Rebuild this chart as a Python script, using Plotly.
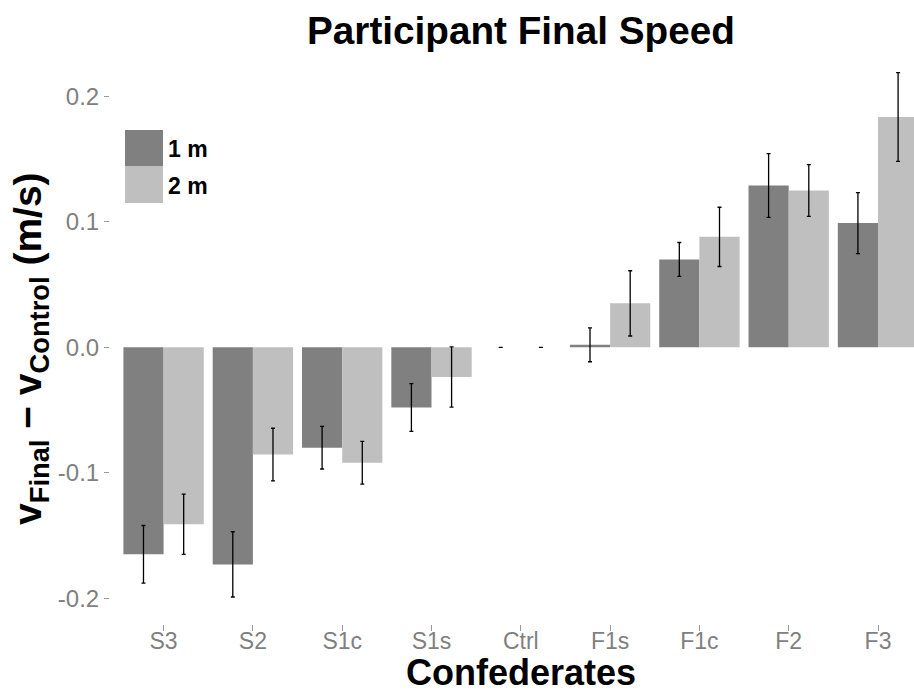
import plotly.graph_objects as go

# Confederate conditions along the x axis
categories = ["S3", "S2", "S1c", "S1s", "Ctrl", "F1s", "F1c", "F2", "F3"]

# Mean change in final speed (m/s) and standard errors, by following distance
mean_1m = [-0.165, -0.173, -0.080, -0.048, 0.0, 0.002, 0.070, 0.129, 0.099]
se_1m = [0.023, 0.026, 0.017, 0.019, 0.0, 0.0135, 0.0135, 0.0254, 0.0243]
mean_2m = [-0.141, -0.0855, -0.092, -0.0237, 0.0, 0.035, 0.088, 0.125, 0.1835]
se_2m = [0.024, 0.021, 0.017, 0.024, 0.0, 0.026, 0.0236, 0.0206, 0.0354]

series_names = ["1 m", "2 m"]
series_colors = ["#808080", "#BFBFBF"]

y_tick_vals = [-0.2, -0.1, 0.0, 0.1, 0.2]
y_tick_text = ["-0.2", "-0.1", "0.0", "0.1", "0.2"]

W, H = 914, 694
ML, MR, MT, MB = 110, 0, 47, 70
PW, PH = W - ML - MR, H - MT - MB


def px(x):
    return (x - ML) / PW


def py(y):
    return (H - MB - y) / PH


FONT = "Liberation Sans, Arial, Helvetica, sans-serif"
TICK_GREY = "#7F7F7F"

fig = go.Figure()
for name, means, ses, color in zip(series_names, [mean_1m, mean_2m], [se_1m, se_2m], series_colors):
    fig.add_trace(go.Bar(
        x=categories, y=means, name=name,
        marker=dict(color=color, line=dict(width=0)),
        error_y=dict(type="data", array=ses, visible=True,
                     color="black", thickness=1.3, width=2),
        showlegend=False,
    ))

# Legend keys drawn as large swatches
shapes = []
annotations = []
key_top = 130
for i, (name, color) in enumerate(zip(series_names, series_colors)):
    y0 = key_top + i * 36.5
    y1 = y0 + 36.5
    shapes.append(dict(type="rect", xref="paper", yref="paper",
                       x0=px(125), x1=px(163), y0=py(y1), y1=py(y0),
                       fillcolor=color, line=dict(width=0), layer="above"))
    annotations.append(dict(text=name, xref="paper", yref="paper",
                            x=px(166), y=py((y0 + y1) / 2 + 1),
                            xanchor="left", yanchor="middle", showarrow=False,
                            font=dict(family=FONT, size=23, color="black", weight="bold")))

# Axis titles
annotations.append(dict(
    text="v<sub>Final</sub> \u2212 v<sub>Control</sub> (m/s)",
    xref="paper", yref="paper", x=px(30), y=py(349), textangle=-90,
    xanchor="center", yanchor="middle", showarrow=False,
    font=dict(family=FONT, size=39, color="black", weight="bold")))
annotations.append(dict(
    text="Confederates", xref="paper", yref="paper", x=px(521), y=py(672),
    xanchor="center", yanchor="middle", showarrow=False,
    font=dict(family=FONT, size=36, color="black", weight="bold")))
annotations.append(dict(
    text="Participant Final Speed", xref="paper", yref="paper", x=px(521), y=py(30),
    xanchor="center", yanchor="middle", showarrow=False,
    font=dict(family=FONT, size=38.7, color="black", weight="bold")))

fig.update_layout(
    width=W, height=H,
    margin=dict(l=ML, r=MR, t=MT, b=MB, pad=0),
    paper_bgcolor="white", plot_bgcolor="white",
    barmode="group", bargap=0.1, bargroupgap=0,
    shapes=shapes, annotations=annotations,
    font=dict(family=FONT),
)
fig.update_xaxes(
    type="category", range=[-0.6, 8.403],
    showgrid=False, zeroline=False, showline=False,
    ticks="outside", ticklen=6, tickwidth=1, tickcolor="#9A9A9A",
    ticklabelstandoff=-10,
    tickfont=dict(family=FONT, size=23, color=TICK_GREY),
)
fig.update_yaxes(
    range=[-0.2205, 0.2393],
    tickvals=y_tick_vals, ticktext=y_tick_text,
    showgrid=False, zeroline=False, showline=False,
    ticks="outside", ticklen=5, tickwidth=1, tickcolor="#9A9A9A",
    tickfont=dict(family=FONT, size=24, color=TICK_GREY),
)

fig.write_html("out.html")
